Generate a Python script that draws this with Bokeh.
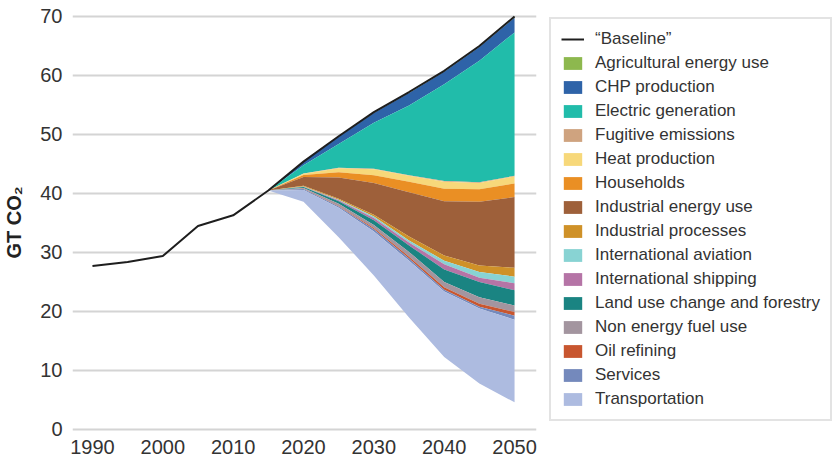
from bokeh.plotting import figure
from bokeh.layouts import row
from bokeh.models import Range1d, FixedTicker, Legend, LegendItem, ColumnDataSource
from bokeh.embed import file_html
from bokeh.resources import INLINE

# ---------------- data ----------------
hist_years = [1990, 1995, 2000, 2005, 2010, 2015]
baseline_hist = [27.7, 28.4, 29.4, 34.5, 36.3, 40.5]

proj_years = [2015, 2020, 2025, 2030, 2035, 2040, 2045, 2050]
baseline_proj = [40.5, 45.4, 49.7, 53.8, 57.2, 60.8, 65.0, 70.0]

# emission reductions (wedges) by sector, stacked downward from the baseline
sectors = [
    "Agricultural energy use", "CHP production", "Electric generation",
    "Fugitive emissions", "Heat production", "Households",
    "Industrial energy use", "Industrial processes", "International aviation",
    "International shipping", "Land use change and forestry",
    "Non energy fuel use", "Oil refining", "Services", "Transportation",
]
agricultural = [0, 0.05, 0.1, 0.15, 0.15, 0.15, 0.15, 0.2]
chp = [0, 0.55, 1.2, 1.65, 2.15, 2.15, 2.35, 2.5]
electric = [0, 1.4, 4.05, 7.8, 11.8, 16.4, 20.6, 24.3]
fugitive = [0, 0.05, 0.05, 0.1, 0.1, 0.1, 0.1, 0.1]
heat = [0, 0.2, 0.7, 1.0, 1.0, 1.2, 1.1, 1.2]
households = [0, 0.35, 0.9, 1.3, 1.8, 2.1, 2.1, 2.3]
industrial_energy = [0, 1.5, 3.6, 5.4, 7.5, 9.2, 10.8, 12.0]
industrial_processes = [0, 0.1, 0.15, 0.3, 0.65, 0.9, 1.1, 1.5]
aviation = [0, 0.05, 0.1, 0.25, 0.35, 0.6, 1.0, 1.1]
shipping = [0, 0.05, 0.15, 0.4, 0.5, 0.9, 0.7, 1.2]
land_use = [0, 0.15, 0.45, 0.8, 1.1, 2.1, 2.6, 2.6]
non_energy = [0, 0.15, 0.35, 0.5, 0.8, 0.9, 1.1, 1.1]
oil_refining = [0, 0.05, 0.1, 0.2, 0.3, 0.4, 0.5, 0.6]
services = [0, 0.15, 0.2, 0.4, 0.4, 0.3, 0.3, 0.7]
transportation = [0, 2.0, 5.0, 7.45, 9.6, 11.1, 12.7, 14.0]

wedges = [agricultural, chp, electric, fugitive, heat, households,
          industrial_energy, industrial_processes, aviation, shipping,
          land_use, non_energy, oil_refining, services, transportation]

colors = ["#8db84e", "#2e63a8", "#21bcaa", "#cfa37f", "#f7d87a", "#ea8f24",
          "#9e603a", "#cf9128", "#88d3d3", "#b574a6", "#1a8482", "#a3959f",
          "#c8562f", "#7489bc", "#adbbe0"]

y_ticks = [0, 10, 20, 30, 40, 50, 60, 70]
x_ticks = [1990, 2000, 2010, 2020, 2030, 2040, 2050]

FONT = "Liberation Sans"
LINE_COLOR = "#1e1e1e"

# ---------------- main chart ----------------
p = figure(width=545, height=462, output_backend="svg", toolbar_location=None,
           x_range=Range1d(1987.163, 2053.12), y_range=Range1d(-0.339, 70.508),
           min_border_left=71, min_border_right=9, min_border_top=13,
           min_border_bottom=31)
p.outline_line_color = None
p.background_fill_color = "white"
p.border_fill_color = "white"

p.xgrid.grid_line_color = None
p.ygrid.grid_line_color = "#d4d4d4"
p.ygrid.grid_line_width = 2

p.yaxis.ticker = FixedTicker(ticks=y_ticks)
p.xaxis.ticker = FixedTicker(ticks=x_ticks)
for ax in (p.xaxis[0], p.yaxis[0]):
    ax.axis_line_color = None
    ax.major_tick_line_color = None
    ax.minor_tick_line_color = None
    ax.major_tick_out = 0
    ax.major_tick_in = 0
    ax.major_label_text_font = FONT
    ax.major_label_text_font_size = "20px"
    ax.major_label_text_color = "#333333"
p.xaxis.major_label_standoff = 8
p.yaxis.major_label_standoff = 10
p.yaxis.axis_label = "GT CO\u2082"
p.yaxis.axis_label_text_font = FONT
p.yaxis.axis_label_text_font_style = "bold"
p.yaxis.axis_label_text_font_size = "20px"
p.yaxis.axis_label_text_color = "#222222"
p.yaxis.axis_label_standoff = 12

# stacked wedges from the baseline downward
top = list(baseline_proj)
for name, w, c in zip(sectors, wedges, colors):
    bottom = [t - v for t, v in zip(top, w)]
    src = ColumnDataSource(dict(x=proj_years, y1=bottom, y2=top))
    p.varea(x="x", y1="y1", y2="y2", source=src, fill_color=c, fill_alpha=1.0)
    top = bottom

line_src = ColumnDataSource(dict(x=hist_years + proj_years[1:],
                                 y=baseline_hist + baseline_proj[1:]))
p.line(x="x", y="y", source=line_src, line_color=LINE_COLOR, line_width=2)

# ---------------- legend panel ----------------
lg = figure(width=288, height=462, output_backend="svg", toolbar_location=None,
            x_range=Range1d(0, 1), y_range=Range1d(0, 1),
            x_axis_location=None, y_axis_location=None,
            min_border_left=0, min_border_right=0, min_border_top=13,
            min_border_bottom=31)
lg.outline_line_color = None
lg.xgrid.grid_line_color = None
lg.ygrid.grid_line_color = None
lg.border_fill_color = "white"
lg.background_fill_color = "white"

# key-only sources: a single undefined point, so nothing is drawn in the frame
key_src = ColumnDataSource(dict(x=[float("nan")], y1=[float("nan")], y2=[float("nan")]))
bl_key = lg.line(x="x", y="y1", source=key_src, line_color=LINE_COLOR, line_width=2)
items = [LegendItem(label="\u201cBaseline\u201d", renderers=[bl_key])]
for name, c in zip(sectors, colors):
    r = lg.varea(x="x", y1="y1", y2="y2", source=key_src, fill_color=c, fill_alpha=1.0)
    items.append(LegendItem(label=name, renderers=[r]))

legend = Legend(items=items, location="top_left")
legend.label_text_font = FONT
legend.label_text_font_size = "17px"
legend.label_text_color = "#333333"
legend.glyph_width = 23
legend.glyph_height = 16
legend.label_height = 20
legend.label_standoff = 11
legend.spacing = 4
legend.padding = 10
legend.margin = 4
legend.border_line_color = "#c8c8c8"
legend.border_line_width = 2
legend.background_fill_color = "white"
legend.background_fill_alpha = 1.0
lg.add_layout(legend)

layout = row(p, lg)
open("out.html", "w").write(file_html(layout, INLINE))
